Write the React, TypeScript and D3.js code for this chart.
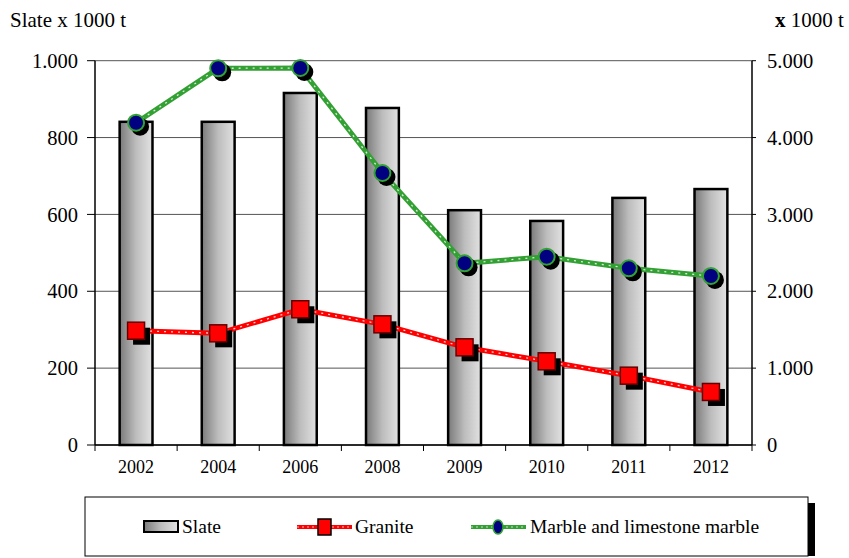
import React from "react";
import * as d3 from "d3";

const years = ["2002", "2004", "2006", "2008", "2009", "2010", "2011", "2012"];
const slate = [841, 841, 916, 877, 611, 583, 643, 666];
const granite = [1487, 1453, 1766, 1570, 1271, 1089, 902, 690];
const marble = [4193, 4901, 4905, 3539, 2364, 2450, 2299, 2199];
const leftTicks = [0, 200, 400, 600, 800, 1000];
const rightTicks = [0, 1000, 2000, 3000, 4000, 5000];

const W = 849;
const H = 558;
const m = { left: 95, right: 752, top: 60.7, bottom: 445 };
const font = "Liberation Serif, DejaVu Serif, serif";

const fmt = (v: number) => (v >= 1000 ? d3.format(",")(v).replace(/,/g, ".") : String(v));

export default function App() {
  const xb = d3.scaleBand<string>().domain(years).range([m.left, m.right]);
  const yL = d3.scaleLinear().domain([0, 1000]).range([m.bottom, m.top]);
  const yR = d3.scaleLinear().domain([0, 5000]).range([m.bottom, m.top]);
  const cx = (y: string) => (xb(y) as number) + xb.bandwidth() / 2;
  const line = d3.line<[number, number]>().x((d) => d[0]).y((d) => d[1]);
  const gPts = years.map((y, i) => [cx(y), yR(granite[i])] as [number, number]);
  const mPts = years.map((y, i) => [cx(y), yR(marble[i])] as [number, number]);
  const bw = xb.bandwidth() * 0.4;

  return (
    <svg width={W} height={H} style={{ position: "absolute", left: 0, top: 0, fontFamily: font }}>
      <defs>
        <linearGradient id="barGrad" x1="0" x2="1" y1="0" y2="0">
          <stop offset="0" stopColor="#7a7a7a" />
          <stop offset="0.5" stopColor="#bdbdbd" />
          <stop offset="1" stopColor="#e2e2e2" />
        </linearGradient>
      </defs>
      <rect width={W} height={H} fill="#fff" />
      <text x={10} y={27} fontSize={21}>Slate x 1000 t</text>
      <text x={775} y={27} fontSize={21}>
        <tspan fontWeight="bold">x</tspan> 1000 t
      </text>

      {/* gridlines */}
      {leftTicks.map((t) => (
        <line key={t} x1={m.left} x2={m.right} y1={yL(t)} y2={yL(t)} stroke="#555" strokeWidth={1} />
      ))}

      {/* left axis */}
      <line x1={m.left} x2={m.left} y1={m.top} y2={m.bottom} stroke="#000" strokeWidth={1.5} />
      {leftTicks.map((t) => (
        <g key={t}>
          <line x1={m.left - 8} x2={m.left} y1={yL(t)} y2={yL(t)} stroke="#000" />
          <text x={78} y={yL(t)} dy="0.35em" textAnchor="end" fontSize={20.5}>{fmt(t)}</text>
        </g>
      ))}

      {/* right axis */}
      <line x1={m.right} x2={m.right} y1={m.top} y2={m.bottom} stroke="#000" strokeWidth={1.5} />
      {rightTicks.map((t) => (
        <g key={t}>
          <line x1={m.right} x2={m.right + 4} y1={yR(t)} y2={yR(t)} stroke="#000" />
          <text x={767} y={yR(t)} dy="0.35em" textAnchor="start" fontSize={20.5}>{fmt(t)}</text>
        </g>
      ))}

      {/* bottom axis */}
      <line x1={m.left} x2={m.right} y1={m.bottom} y2={m.bottom} stroke="#000" strokeWidth={1.5} />
      {years.map((y) => (
        <line key={y} x1={xb(y) as number} x2={xb(y) as number} y1={m.bottom} y2={m.bottom + 6} stroke="#000" />
      ))}
      <line x1={m.right} x2={m.right} y1={m.bottom} y2={m.bottom + 6} stroke="#000" />
      {years.map((y) => (
        <text key={y} x={cx(y)} y={473} textAnchor="middle" fontSize={18}>{y}</text>
      ))}

      {/* slate bars */}
      {years.map((y, i) => (
        <rect key={y} x={cx(y) - bw / 2} y={yL(slate[i])} width={bw} height={m.bottom - yL(slate[i])}
          fill="url(#barGrad)" stroke="#000" strokeWidth={2.5} />
      ))}

      {/* granite line */}
      <path d={line(gPts) as string} fill="none" stroke="#ff0000" strokeWidth={5} />
      <path d={line(gPts) as string} fill="none" stroke="#fff" strokeWidth={1.3} strokeDasharray="2 5" opacity={0.8} />
      {/* marble line */}
      <path d={line(mPts) as string} fill="none" stroke="#33a033" strokeWidth={5} />
      <path d={line(mPts) as string} fill="none" stroke="#fff" strokeWidth={1.3} strokeDasharray="2 5" opacity={0.8} />

      {/* granite markers */}
      {gPts.map(([px, py], i) => (
        <g key={i}>
          <rect x={px - 8 + 5} y={py - 8 + 5} width={17} height={17} fill="#000" />
          <rect x={px - 8.5} y={py - 8.5} width={17} height={17} fill="#ff0000" stroke="#600" strokeWidth={1.5} />
        </g>
      ))}
      {/* marble markers */}
      {mPts.map(([px, py], i) => (
        <g key={i}>
          <circle cx={px + 4} cy={py + 4} r={9} fill="#000" />
          <circle cx={px} cy={py} r={8} fill="#000080" stroke="#33a033" strokeWidth={2} />
        </g>
      ))}

      {/* legend */}
      <rect x={808} y={503} width={7} height={53} fill="#000" />
      <rect x={85} y={497} width={723} height={59} fill="#fff" stroke="#000" strokeWidth={1} />
      <rect x={144} y={521} width={34} height={11} fill="url(#barGrad)" stroke="#000" strokeWidth={2} />
      <text x={182} y={533} fontSize={19.5}>Slate</text>
      <line x1={297} x2={352} y1={527} y2={527} stroke="#ff0000" strokeWidth={4} />
      <line x1={297} x2={352} y1={527} y2={527} stroke="#fff" strokeWidth={1} strokeDasharray="2 3" opacity={0.7} />
      <rect x={318} y={519} width={13} height={16} fill="#ff0000" stroke="#000" strokeWidth={1.5} />
      <text x={355} y={533} fontSize={19.5}>Granite</text>
      <line x1={471} x2={526} y1={527} y2={527} stroke="#33a033" strokeWidth={4} />
      <line x1={471} x2={526} y1={527} y2={527} stroke="#fff" strokeWidth={1} strokeDasharray="2 3" opacity={0.7} />
      <ellipse cx={498} cy={527} rx={5} ry={7} fill="#000080" stroke="#33a033" strokeWidth={1.5} />
      <text x={530} y={533} fontSize={19.5}>Marble and limestone marble</text>
    </svg>
  );
}
